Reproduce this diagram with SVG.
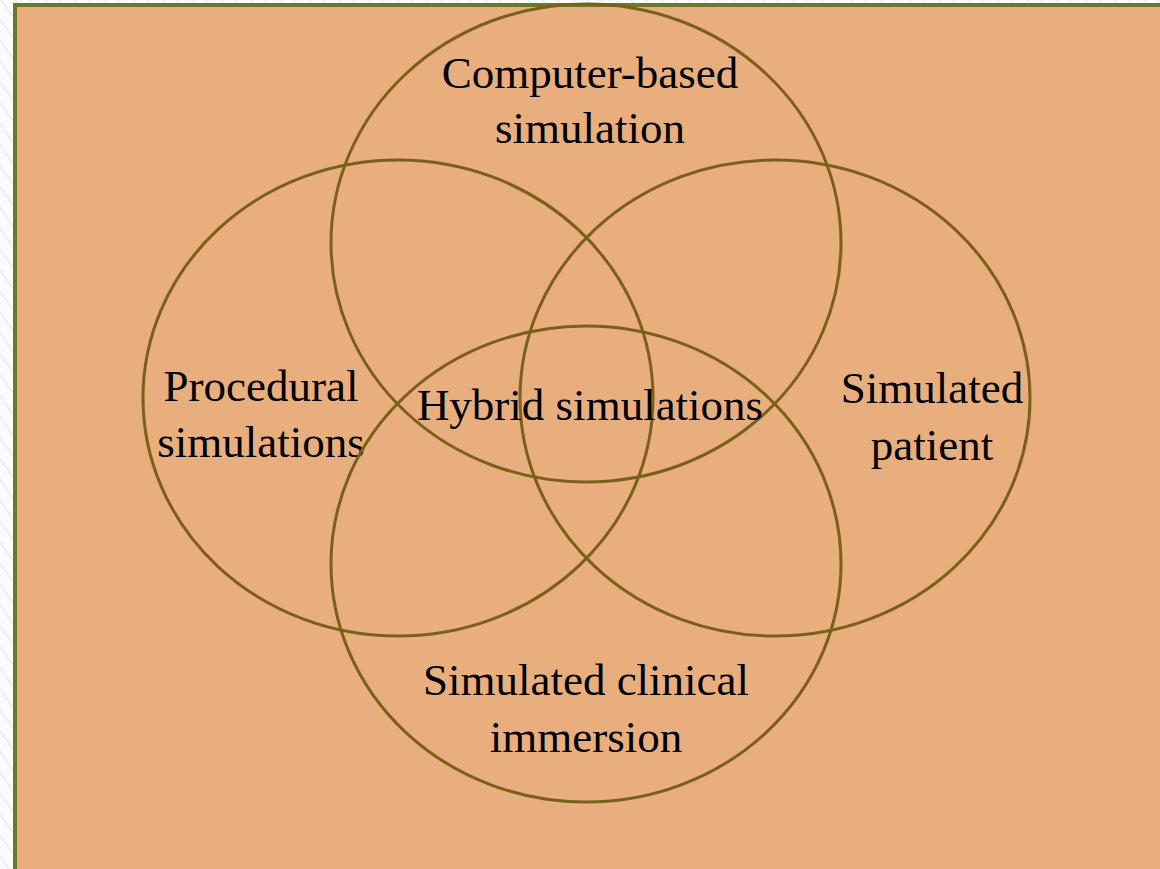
<svg xmlns="http://www.w3.org/2000/svg" width="1160" height="869" viewBox="0 0 1160 869">
  <defs>
    <pattern id="hatch" width="12" height="12" patternUnits="userSpaceOnUse" patternTransform="rotate(-35)">
      <rect width="12" height="12" fill="#fbfbfb"/>
      <line x1="0" y1="0" x2="0" y2="12" stroke="#eeeeee" stroke-width="4"/>
    </pattern>
  </defs>
  <style>
    .ring { fill: none; stroke: #7a6018; stroke-width: 3; }
    .label { font-family: "Liberation Serif", "Times New Roman", serif; font-size: 45px; fill: #000; text-anchor: middle; }
  </style>
  <rect x="0" y="0" width="1160" height="869" fill="url(#hatch)"/>
  <rect id="panel" x="15" y="5" width="1150" height="870" fill="#e8ae7e" stroke="#6b7a2a" stroke-width="4"/>

  <g id="connectors"></g>

  <g id="computer-based">
    <ellipse class="ring" cx="586" cy="243" rx="255" ry="239"/>
    <text class="label" x="590" y="88">Computer-based</text>
    <text class="label" x="590" y="143">simulation</text>
  </g>
  <g id="procedural">
    <ellipse class="ring" cx="398" cy="398" rx="255" ry="238"/>
    <text class="label" x="261" y="401">Procedural</text>
    <text class="label" x="261" y="457">simulations</text>
  </g>
  <g id="simulated-patient">
    <ellipse class="ring" cx="775" cy="398" rx="255" ry="238"/>
    <text class="label" x="932" y="403">Simulated</text>
    <text class="label" x="932" y="460">patient</text>
  </g>
  <g id="clinical-immersion">
    <ellipse class="ring" cx="586" cy="564" rx="255" ry="238"/>
    <text class="label" x="586" y="695">Simulated clinical</text>
    <text class="label" x="586" y="752">immersion</text>
  </g>
  <g id="hybrid">
    <text class="label" x="590" y="420">Hybrid simulations</text>
  </g>
</svg>
